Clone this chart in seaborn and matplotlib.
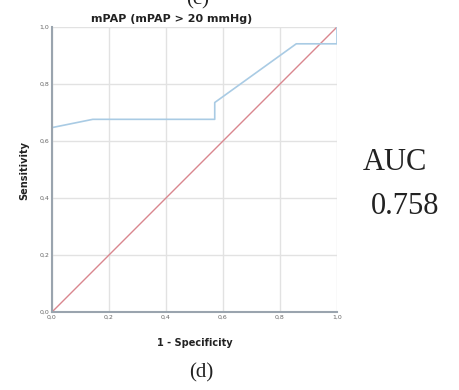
import matplotlib
matplotlib.use("Agg")
import matplotlib.pyplot as plt
import seaborn as sns
import pandas as pd

# ROC curve points (1 - specificity, sensitivity)
fpr = [0.0, 0.0, 0.143, 0.571, 0.571, 0.857, 1.0, 1.0]
tpr = [0.0, 0.647, 0.676, 0.676, 0.735, 0.941, 0.941, 1.0]
ref_line = [0.0, 1.0]
ticks = [0.0, 0.2, 0.4, 0.6, 0.8, 1.0]
tick_labels = ["0,0", "0,2", "0,4", "0,6", "0,8", "1,0"]
auc_value = "0.758"

sns.set_style("white")
fig = plt.figure(figsize=(4.6, 3.9), dpi=100)
ax = fig.add_axes([52 / 460, 78 / 390, 285 / 460, 285 / 390])

roc = pd.DataFrame({"fpr": fpr, "tpr": tpr})
diag = pd.DataFrame({"x": ref_line, "y": ref_line})

sns.lineplot(data=diag, x="x", y="y", ax=ax, color="#d9868e", lw=1.0,
             sort=False, estimator=None)
sns.lineplot(data=roc, x="fpr", y="tpr", ax=ax, color="#a9cbe4", lw=1.2,
             sort=False, estimator=None)

ax.set_xlim(0, 1)
ax.set_ylim(0, 1)
ax.set_xticks(ticks)
ax.set_yticks(ticks)
ax.set_xticklabels(tick_labels)
ax.set_yticklabels(tick_labels)
ax.tick_params(length=0, labelsize=4.5, labelcolor="#666666", pad=2)
ax.grid(True, color="#e2e2e2", lw=1.0)
ax.set_axisbelow(True)
for side in ("top", "right"):
    ax.spines[side].set_visible(False)
for side in ("left", "bottom"):
    ax.spines[side].set_color("#9aa4ae")
    ax.spines[side].set_linewidth(1.5)
ax.set_xlabel("")
ax.set_ylabel("")

fig.text(172 / 460, 1 - 19.5 / 390, "mPAP (mPAP > 20 mmHg)", ha="center", va="center",
         fontsize=8, fontweight="bold", color="#222222")
fig.text(198 / 460, 1.0, "(c)", ha="center", va="center", fontsize=15,
         family="Liberation Serif", color="#222222")
fig.text(195 / 460, 1 - 343 / 390, "1 - Specificity", ha="center", va="center",
         fontsize=7, fontweight="bold", color="#222222")
fig.text(24 / 460, 1 - 170 / 390, "Sensitivity", ha="center", va="center", rotation=90,
         fontsize=7, fontweight="bold", color="#222222")
fig.text(201 / 460, 1 - 373 / 390, "(d)", ha="center", va="center", fontsize=15,
         family="Liberation Serif", color="#222222")
fig.text(395 / 460, 1 - 162 / 390, "AUC", ha="center", va="center", fontsize=22,
         family="Liberation Serif", color="#222222")
fig.text(405 / 460, 1 - 207 / 390, auc_value, ha="center", va="center", fontsize=22,
         family="Liberation Serif", color="#222222")

fig.savefig("out.png", dpi=100, facecolor="white")
